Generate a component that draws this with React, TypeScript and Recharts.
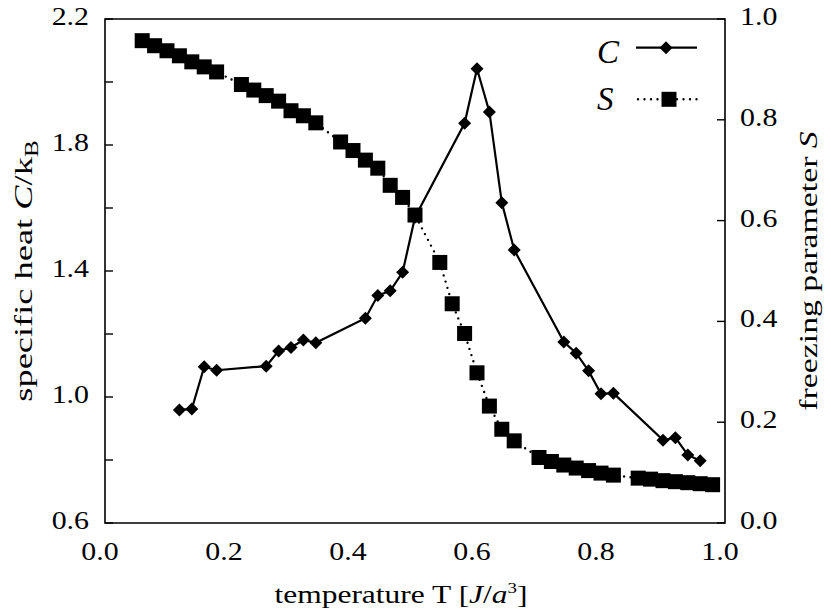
import {
  ComposedChart,
  Line,
  XAxis,
  YAxis,
  Legend,
  ReferenceArea,
} from "recharts";

// specific heat C (left axis)
const cTemps = [0.12, 0.14, 0.16, 0.18, 0.26, 0.28, 0.3, 0.32, 0.34, 0.42, 0.44, 0.46, 0.48, 0.5,
  0.58, 0.6, 0.62, 0.64, 0.66, 0.74, 0.76, 0.78, 0.8, 0.82, 0.9, 0.92, 0.94, 0.96];
const cValues = [0.959, 0.962, 1.096, 1.085, 1.098, 1.146, 1.157, 1.181, 1.172, 1.25, 1.322, 1.337, 1.396, 1.571,
  1.869, 2.042, 1.905, 1.617, 1.467, 1.175, 1.139, 1.083, 1.01, 1.012, 0.863, 0.871, 0.816, 0.798];

// freezing parameter S (right axis)
const sTemps = [0.06, 0.08, 0.1, 0.12, 0.14, 0.16, 0.18,
  0.22, 0.24, 0.26, 0.28, 0.3, 0.32, 0.34,
  0.38, 0.4, 0.42, 0.44, 0.46, 0.48, 0.5,
  0.54, 0.56, 0.58, 0.6, 0.62, 0.64, 0.66,
  0.7, 0.72, 0.74, 0.76, 0.78, 0.8, 0.82,
  0.86, 0.88, 0.9, 0.92, 0.94, 0.96, 0.98];
const sValues = [0.957, 0.947, 0.937, 0.927, 0.915, 0.905, 0.895,
  0.87, 0.859, 0.848, 0.837, 0.818, 0.808, 0.794,
  0.756, 0.739, 0.72, 0.704, 0.67, 0.646, 0.611,
  0.517, 0.435, 0.376, 0.298, 0.232, 0.186, 0.163,
  0.13, 0.122, 0.115, 0.109, 0.104, 0.099, 0.095,
  0.089, 0.087, 0.084, 0.082, 0.08, 0.078, 0.076];

const xTicks = [0, 0.2, 0.4, 0.6, 0.8, 1.0];
const leftTicks = [0.6, 0.8, 1.0, 1.2, 1.4, 1.6, 1.8, 2.0, 2.2];
const rightTicks = [0, 0.2, 0.4, 0.6, 0.8, 1.0];

const cData = cTemps.map((t, i) => ({ T: t, C: cValues[i] }));
const sData = sTemps.map((t, i) => ({ T: t, S: sValues[i] }));

const FONT = "Liberation Serif, Tinos, Times New Roman, DejaVu Serif, serif";
const serif = { fontFamily: FONT };

const Diamond = (props: any) => {
  const { cx, cy } = props;
  if (cx == null || cy == null) return null;
  const r = 6.5;
  return <polygon points={`${cx},${cy - r} ${cx + r},${cy} ${cx},${cy + r} ${cx - r},${cy}`} fill="#000" />;
};

const Square = (props: any) => {
  const { cx, cy } = props;
  if (cx == null || cy == null) return null;
  return <rect x={cx - 7.5} y={cy - 7.5} width={15} height={15} fill="#000" />;
};

const LeftTick = (props: any) => {
  const { x, y, payload, index } = props;
  return (
    <g>
      <line x1={x} y1={y} x2={x + 8} y2={y} stroke="#000" strokeWidth={1.4} />
      {index % 2 === 0 && (
        <text transform={`translate(${x - 16},${y + 6}) scale(1.15,1)`} textAnchor="end"
          style={serif} fontSize={26} fill="#000">
          {payload.value.toFixed(1)}
        </text>
      )}
    </g>
  );
};

const RightTick = (props: any) => {
  const { x, y, payload } = props;
  return (
    <g>
      <line x1={x - 8} y1={y} x2={x} y2={y} stroke="#000" strokeWidth={1.4} />
      <text transform={`translate(${x + 15},${y + 6}) scale(1.15,1)`} textAnchor="start"
        style={serif} fontSize={26} fill="#000">
        {payload.value.toFixed(1)}
      </text>
    </g>
  );
};

const BottomTick = (props: any) => {
  const { x, y, payload } = props;
  return (
    <text transform={`translate(${x - 5},${y + 37}) scale(1.15,1)`} textAnchor="middle"
      style={serif} fontSize={26} fill="#000">
      {payload.value.toFixed(1)}
    </text>
  );
};

const XTitle = (props: any) => {
  const vb = props.viewBox;
  const cx = vb.x + vb.width / 2 - 14;
  return (
    <text transform={`translate(${cx},${vb.y + 80}) scale(1.26,1)`} textAnchor="middle"
      style={serif} fontSize={25} fill="#000">
      <tspan>temperature T [</tspan>
      <tspan fontStyle="italic">J</tspan>
      <tspan>/</tspan>
      <tspan fontStyle="italic">a</tspan>
      <tspan fontSize={15} dy={-10}>3</tspan>
      <tspan dy={10}>]</tspan>
    </text>
  );
};

const LeftTitle = (props: any) => {
  const vb = props.viewBox;
  const cy = vb.y + vb.height / 2;
  return (
    <text transform={`translate(${vb.x + 32},${cy}) rotate(-90) scale(1.4,1)`} textAnchor="middle"
      style={serif} fontSize={26} fill="#000">
      <tspan>specific heat </tspan>
      <tspan fontStyle="italic">C</tspan>
      <tspan>/k</tspan>
      <tspan fontSize={18} dy={6}>B</tspan>
    </text>
  );
};

const RightTitle = (props: any) => {
  const vb = props.viewBox;
  const cy = vb.y + vb.height / 2;
  return (
    <text transform={`translate(${vb.x + 92},${cy}) rotate(-90) scale(1.3,1)`} textAnchor="middle"
      style={serif} fontSize={26} fill="#000">
      <tspan>freezing parameter </tspan>
      <tspan fontStyle="italic">S</tspan>
    </text>
  );
};

const renderLegend = (props: any) => {
  const items = props.payload || [];
  return (
    <svg width={130} height={100}>
      {items.map((item: any) => {
        const isC = item.dataKey === "C";
        const y = isC ? 22.7 : 74.3;
        return (
          <g key={item.dataKey}>
            <text x={7} y={y + (isC ? 15 : 11)} style={serif} fontStyle="italic" fontSize={33} fill="#000">
              {item.value}
            </text>
            {isC ? (
              <>
                <line x1={46} y1={y} x2={107} y2={y} stroke="#000" strokeWidth={2.2} />
                <Diamond cx={76} cy={y} />
              </>
            ) : (
              <>
                <line x1={48} y1={y} x2={107} y2={y} stroke="#000" strokeWidth={2.4}
                  strokeDasharray="0 6.5" strokeLinecap="round" />
                <Square cx={79} cy={y} />
              </>
            )}
          </g>
        );
      })}
    </svg>
  );
};

export default function App() {
  return (
    <div style={{ position: "absolute", left: 0, top: 0, background: "#fff", fontFamily: FONT }}>
      <ComposedChart width={831} height={616} margin={{ top: 19, right: 0, bottom: 0, left: 0 }}>
        <XAxis dataKey="T" type="number" domain={[0, 1]} ticks={xTicks} interval={0}
          height={93} axisLine={false} tickLine={false} tickSize={0} tickMargin={0}
          tick={<BottomTick />} label={{ content: (p: any) => <XTitle {...p} /> }} allowDataOverflow />
        <YAxis yAxisId="C" orientation="left" type="number" domain={[0.6, 2.2]} ticks={leftTicks}
          interval={0} width={105} axisLine={false} tickLine={false} tickSize={0} tickMargin={0}
          tick={<LeftTick />} label={{ content: (p: any) => <LeftTitle {...p} /> }} allowDataOverflow />
        <YAxis yAxisId="S" orientation="right" type="number" domain={[0, 1]} ticks={rightTicks}
          interval={0} width={106} axisLine={false} tickLine={false} tickSize={0} tickMargin={0}
          tick={<RightTick />} label={{ content: (p: any) => <RightTitle {...p} /> }} allowDataOverflow />
        <ReferenceArea yAxisId="C" x1={0} x2={1} y1={0.6} y2={2.2} fill="none"
          stroke="#000" strokeWidth={1.6} fillOpacity={0} />
        <Legend layout="horizontal" verticalAlign="middle" align="center" content={renderLegend}
          wrapperStyle={{ position: "absolute", left: 590, top: 25, width: 130, height: 100 }} />
        <Line yAxisId="C" data={cData} dataKey="C" name="C" stroke="#000" strokeWidth={2.2}
          dot={<Diamond />} activeDot={false} isAnimationActive={false} />
        <Line yAxisId="S" data={sData} dataKey="S" name="S" stroke="#000" strokeWidth={2.4}
          strokeDasharray="0 6.5" strokeLinecap="round" dot={<Square />} activeDot={false}
          isAnimationActive={false} />
      </ComposedChart>
    </div>
  );
}
